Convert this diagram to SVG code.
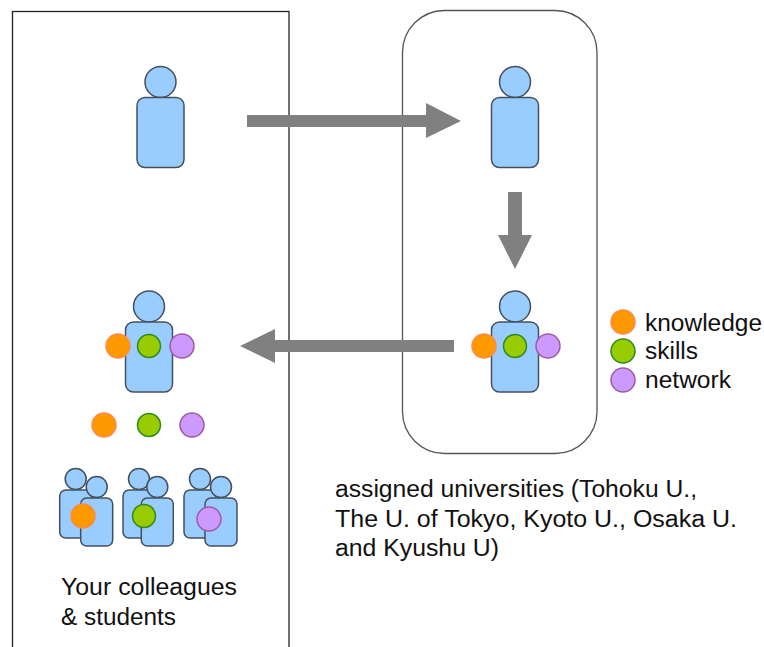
<svg xmlns="http://www.w3.org/2000/svg" width="764" height="647" viewBox="0 0 764 647">
<style>
.b{fill:#99ccff;stroke:#44505c;stroke-width:1.5}
.o{fill:#ff9900;stroke:#ff8a50;stroke-width:1.5}
.g{fill:#99cc00;stroke:#2f8a20;stroke-width:1.5}
.p{fill:#cc99ff;stroke:#a05aa0;stroke-width:1.5}
.a{fill:#808080}
.f{fill:none;stroke:#222;stroke-width:1.3}
.r{fill:none;stroke:#555;stroke-width:1.3}
text{font-family:"Liberation Sans",Arial,sans-serif;font-size:23.5px;fill:#111}
</style>
<defs>
<g id="person"><circle class="b" cx="0" cy="0" r="15.5"/><rect class="b" x="-23.5" y="15.5" width="47" height="70" rx="8"/></g>
<g id="small"><circle class="b" cx="0" cy="0" r="10.5"/><rect class="b" x="-16" y="11" width="32" height="48" rx="6"/></g>
</defs>
<rect width="764" height="647" fill="#fff"/>
<g id="frame-colleagues"><rect class="f" x="12.5" y="11.5" width="276.5" height="660"/></g>
<g id="frame-universities"><rect class="r" x="402.5" y="10.5" width="194.5" height="443" rx="42"/></g>
<g id="person-top-left"><use href="#person" x="160.5" y="82"/></g>
<g id="person-top-right"><use href="#person" x="515" y="82"/></g>
<g id="person-bottom-right"><use href="#person" x="515" y="306.5"/><circle class="o" cx="484" cy="346" r="12"/><circle class="g" cx="515" cy="346" r="11.5"/><circle class="p" cx="548" cy="346" r="12"/></g>
<g id="person-bottom-left"><use href="#person" x="149" y="306.5"/><circle class="o" cx="118" cy="346" r="12"/><circle class="g" cx="149" cy="346" r="11.5"/><circle class="p" cx="182" cy="346" r="12"/></g>
<g id="dots"><circle class="o" cx="104" cy="425" r="12"/><circle class="g" cx="149" cy="425" r="11.5"/><circle class="p" cx="192" cy="425" r="12"/></g>
<g id="colleagues-1"><use href="#small" x="75.7" y="479"/><use href="#small" x="96.7" y="487"/><circle class="o" cx="83" cy="516" r="12"/></g>
<g id="colleagues-2"><use href="#small" x="139" y="479"/><use href="#small" x="157.3" y="487"/><circle class="g" cx="144" cy="516" r="11.5"/></g>
<g id="colleagues-3"><use href="#small" x="200" y="479"/><use href="#small" x="221" y="487"/><circle class="p" cx="209" cy="519" r="12"/></g>
<g id="connectors">
<polygon class="a" points="247,115 426,115 426,103 461,121 426,138 426,127 247,127"/>
<polygon class="a" points="508,192 522,192 522,235 532,235 515,269 498,235 508,235"/>
<polygon class="a" points="454,340 275,340 275,329 240,346 275,363 275,352 454,352"/>
</g>
<g id="legend">
<circle class="o" cx="623" cy="322" r="12"/><circle class="g" cx="623" cy="351" r="12"/><circle class="p" cx="623" cy="380" r="12"/>
<text x="645" y="331" textLength="117" lengthAdjust="spacingAndGlyphs">knowledge</text>
<text x="645" y="359" textLength="53" lengthAdjust="spacingAndGlyphs">skills</text>
<text x="645" y="388" textLength="86" lengthAdjust="spacingAndGlyphs">network</text>
</g>
<g id="caption">
<text x="335" y="497" textLength="362" lengthAdjust="spacingAndGlyphs">assigned universities (Tohoku U.,</text>
<text x="335" y="527" textLength="402" lengthAdjust="spacingAndGlyphs">The U. of Tokyo, Kyoto U., Osaka U.</text>
<text x="335" y="556" textLength="164" lengthAdjust="spacingAndGlyphs">and Kyushu U)</text>
<text x="61" y="595" textLength="176" lengthAdjust="spacingAndGlyphs">Your colleagues</text>
<text x="61" y="625" textLength="115" lengthAdjust="spacingAndGlyphs">&amp; students</text>
</g>
</svg>
